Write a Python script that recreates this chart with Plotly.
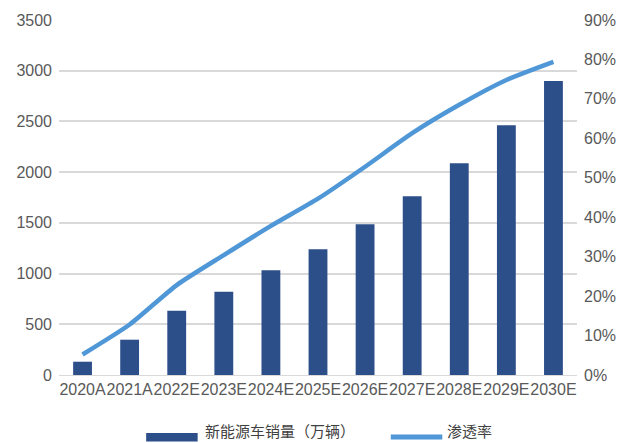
import plotly.graph_objects as go

categories = ["2020A", "2021A", "2022E", "2023E", "2024E", "2025E",
              "2026E", "2027E", "2028E", "2029E", "2030E"]
sales = [131, 348, 634, 821, 1032, 1239, 1486, 1762, 2087, 2462, 2899]
penetration = [0.052, 0.128, 0.228, 0.304, 0.378, 0.447, 0.528, 0.613, 0.685, 0.748, 0.794]
bar_name = "新能源车销量（万辆）"
line_name = "渗透率"

BAR_COLOR = "#2C4F8A"
LINE_COLOR = "#4F97D6"
TICK_FONT = dict(family="Liberation Sans, Arial", size=16, color="#595959")
PLOT_H = 355.0

def py(pix):
    return (375 - pix) / PLOT_H

fig = go.Figure()
fig.add_trace(go.Bar(x=categories, y=sales, name=bar_name, marker_color=BAR_COLOR,
                     marker_line_width=0, yaxis="y", showlegend=False))
fig.add_trace(go.Scatter(x=categories, y=penetration, name=line_name, mode="lines",
                         line=dict(color=LINE_COLOR, width=4.5, shape="spline", smoothing=0.6),
                         yaxis="y2", showlegend=False))

fig.update_layout(
    width=628, height=443,
    margin=dict(l=59, r=46, t=20, b=68),
    paper_bgcolor="white", plot_bgcolor="white",
    bargap=0.6,
    xaxis=dict(tickfont=TICK_FONT, showgrid=False, showline=True, linecolor="#D9D9D9",
               linewidth=1, ticks="", tickangle=0),
    yaxis=dict(range=[0, 3500], dtick=500, tickfont=TICK_FONT, showgrid=True,
               gridcolor="#D9D9D9", gridwidth=1.5, zeroline=False, ticks="",
               ticklabelstandoff=6),
    yaxis2=dict(range=[0, 0.9], dtick=0.1, tickformat=".0%", overlaying="y", side="right",
                tickfont=TICK_FONT, showgrid=False, zeroline=False, ticks="",
                ticklabelstandoff=6),
    shapes=[
        dict(type="rect", xref="paper", yref="paper",
             x0=(147 - 59) / 523, x1=(199 - 59) / 523, y0=py(441.5), y1=py(433),
             fillcolor=BAR_COLOR, line_width=0),
        dict(type="line", xref="paper", yref="paper",
             x0=(394 - 59) / 523, x1=(446 - 59) / 523, y0=py(437), y1=py(437),
             line=dict(color=LINE_COLOR, width=5)),
    ],
    annotations=[
        dict(text=bar_name, xref="paper", yref="paper", x=(204 - 59) / 523, y=py(443),
             xanchor="left", yanchor="bottom", showarrow=False,
             font=dict(family="Noto Sans CJK SC", size=15, color="#404040")),
        dict(text=line_name, xref="paper", yref="paper", x=(449 - 59) / 523, y=py(443),
             xanchor="left", yanchor="bottom", showarrow=False,
             font=dict(family="Noto Sans CJK SC", size=15, color="#404040")),
    ],
)

fig.write_html("out.html")
